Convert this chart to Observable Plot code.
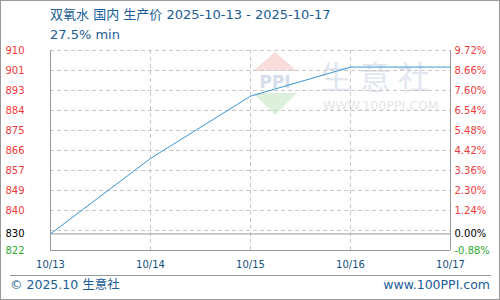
<!DOCTYPE html>
<html><head><meta charset="utf-8">
<script src="https://cdn.jsdelivr.net/npm/d3@7"></script>
<script src="https://cdn.jsdelivr.net/npm/@observablehq/plot@0.6"></script>
<style>
body{margin:0;background:#fff}
#wrap{position:relative;width:500px;height:300px;overflow:hidden;font-family:"DejaVu Sans","Noto Sans CJK SC",sans-serif;background:#fff}
#wrap svg.plot{position:absolute;left:0;top:0}
.abs{position:absolute;white-space:nowrap}
#border{position:absolute;left:0;top:0;width:500px;height:300px;box-sizing:border-box;border:1px solid #999;pointer-events:none}
.title{left:50px;color:#1a5c96;font-size:13px;line-height:16px}
.foot{top:277px;color:#1a5c96;font-size:12.5px;line-height:16px}
#footline{position:absolute;left:10px;top:275px;width:481px;border-top:1px solid #999}
</style></head>
<body>
<div id="wrap">
  <svg class="abs" style="left:250px;top:50px" width="60" height="70">
    <polygon points="25,2 3,21 47,21" fill="#f9dcdc"/>
    <text x="25" y="38" text-anchor="middle" font-family="DejaVu Sans" font-weight="bold" font-size="17" fill="#d5dcea">PPI</text>
    <polygon points="3,43 47,43 25,65" fill="#dcf0dc"/>
  </svg>
  <div class="abs" style="left:320px;top:52px;font-size:32px;letter-spacing:7px;color:#e2e7ef;font-family:'Noto Sans CJK SC'">生意社</div>
  <div class="abs" style="left:323px;top:98px;font-size:12.5px;letter-spacing:0px;color:#e6e6e6">WWW.100PPI.COM</div>
  <div id="chart"></div>
  <div class="abs title" style="top:7px">双氧水 国内 生产价 2025-10-13 - 2025-10-17</div>
  <div class="abs title" style="top:27px">27.5% min</div>
  <div id="footline"></div>
  <div class="abs foot" style="left:10px">© 2025.10 生意社</div>
  <div class="abs foot" style="right:10px">www.100PPI.com</div>
  <div id="border"></div>
</div>
<script>
const dates = ["10/13", "10/14", "10/15", "10/16", "10/17"];
const prices = [830, 863.2, 890.6, 903.4, 903.4];
const baseValue = 830;
const yMin = 822.7;
const yMax = 910.7;
const leftTickLabels = ["840", "849", "857", "866", "875", "884", "893", "901", "910"];
const rightTickLabels = ["1.24%", "2.30%", "3.36%", "4.42%", "5.48%", "6.54%", "7.60%", "8.66%", "9.72%"];
const baseLabels = ["830", "0.00%"];
const minLabels = ["822", "-0.88%"];

const step = (yMax - yMin) / 10;
const gridValues = d3.range(1, 11).map(k => yMin + k * step);
const labeled = leftTickLabels.map((l, i) => ({v: yMin + (i + 2) * step, left: l, right: rightTickLabels[i]}));
const data = dates.map((d, i) => ({date: d, price: prices[i]}));

const red = "#f03a3a", green = "#33aa33", frame = "#999", grid = "#c8c8c8";

const chart = Plot.plot({
  width: 500, height: 300,
  marginLeft: 50, marginRight: 50, marginTop: 50, marginBottom: 50,
  style: {fontFamily: "DejaVu Sans, sans-serif", fontSize: "10px", background: "transparent"},
  x: {type: "point", domain: dates, padding: 0, axis: null},
  y: {domain: [yMin, yMax], axis: null},
  marks: [
    Plot.ruleY(gridValues, {stroke: grid, strokeDasharray: "4,3"}),
    Plot.ruleX(dates.slice(1, -1), {stroke: grid, strokeDasharray: "4,3"}),
    Plot.ruleY([baseValue], {stroke: frame}),
    Plot.ruleY([yMin], {stroke: frame}),
    Plot.ruleX([dates[0], dates[dates.length - 1]], {stroke: frame}),
    Plot.line(data, {x: "date", y: "price", stroke: "#3a96d8", strokeWidth: 1}),
    Plot.text(labeled, {y: "v", text: "left", frameAnchor: "left", dx: -45, textAnchor: "start", fill: red}),
    Plot.text(labeled, {y: "v", text: "right", frameAnchor: "right", dx: 4, textAnchor: "start", fill: red}),
    Plot.text([baseValue], {y: d => d, text: () => baseLabels[0], frameAnchor: "left", dx: -45, textAnchor: "start", fill: "#000"}),
    Plot.text([baseValue], {y: d => d, text: () => baseLabels[1], frameAnchor: "right", dx: 4, textAnchor: "start", fill: "#000"}),
    Plot.text([yMin], {y: d => d, text: () => minLabels[0], frameAnchor: "left", dx: -45, textAnchor: "start", fill: green}),
    Plot.text([yMin], {y: d => d, text: () => minLabels[1], frameAnchor: "right", dx: 4, textAnchor: "start", fill: green}),
    Plot.text(dates, {x: d => d, text: d => d, frameAnchor: "bottom", dy: 17, fill: "#134f80"})
  ]
});
chart.classList.add("plot");
document.getElementById("chart").appendChild(chart);
</script>
</body></html>
